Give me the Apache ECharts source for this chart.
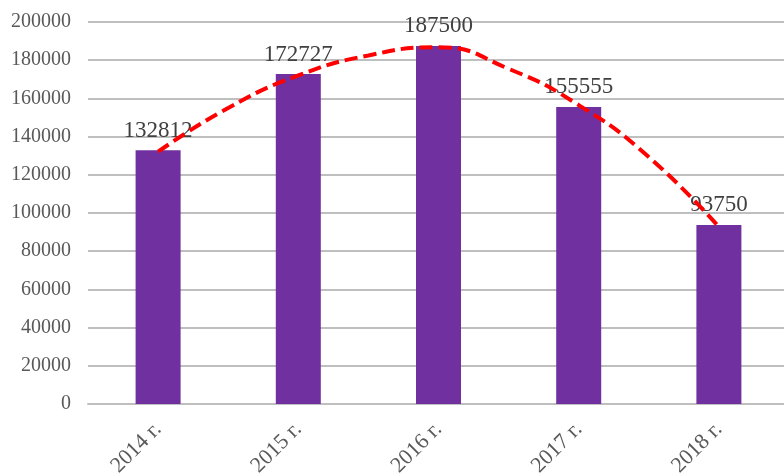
<!DOCTYPE html>
<html>
<head>
<meta charset="utf-8">
<script src="https://cdn.jsdelivr.net/npm/echarts@6/dist/echarts.min.js"></script>
<style>
html,body{margin:0;padding:0;background:#fff;}
#chart{width:784px;height:473px;}
</style>
</head>
<body>
<div id="chart"></div>
<script>
const categories = ['2014 г.', '2015 г.', '2016 г.', '2017 г.', '2018 г.'];
const values = [132812, 172727, 187500, 155555, 93750];
// red dashed trend curve at category positions (1 = 2014 ... 5 = 2018)
const trendX = [1, 1.5, 2, 2.5, 3, 3.5, 4, 4.5, 5];
const trendValues = [132100, 155000, 172000, 182500, 186800, 175500, 156500, 129300, 92700];
const yMin = 0, yMax = 200000, yStep = 20000;

const chart = echarts.init(document.getElementById('chart'), null, {renderer: 'canvas'});
chart.setOption({
  animation: false,
  backgroundColor: '#ffffff',
  grid: {left: 88, top: 22, width: 701, bottom: 69, containLabel: false, outerBoundsMode: 'none'},
  xAxis: [{
    type: 'category',
    data: categories,
    boundaryGap: true,
    axisLine: {show: true, lineStyle: {color: '#bfbfbf', width: 2}},
    axisTick: {show: false},
    axisLabel: {
      rotate: 45, margin: 22, color: '#595959',
      fontFamily: 'Liberation Serif', fontSize: 22, interval: 0
    },
    splitLine: {show: false}
  }, {
    type: 'value',
    min: 0.5, max: 5.5,
    show: false
  }],
  yAxis: {
    type: 'value',
    min: yMin, max: yMax, interval: yStep,
    axisLine: {show: false},
    axisTick: {show: false},
    axisLabel: {
      margin: 17, color: '#595959', fontFamily: 'Liberation Serif', fontSize: 20,
      formatter: v => String(v)
    },
    splitLine: {lineStyle: {color: '#bfbfbf', width: 2}}
  },
  series: [
    {
      type: 'bar',
      data: values,
      barWidth: 45,
      itemStyle: {color: '#7030A0'},
      label: {
        show: true, position: 'top', distance: 8,
        color: '#404040', fontFamily: 'Liberation Serif', fontSize: 23
      },
      z: 2
    },
    {
      type: 'line',
      xAxisIndex: 1,
      data: trendX.map((x, i) => [x, trendValues[i]]),
      smooth: 0.5,
      symbol: 'none',
      lineStyle: {color: '#ff0000', width: 4, type: [13, 6], cap: 'butt'},
      z: 3
    }
  ]
});
</script>
</body>
</html>
